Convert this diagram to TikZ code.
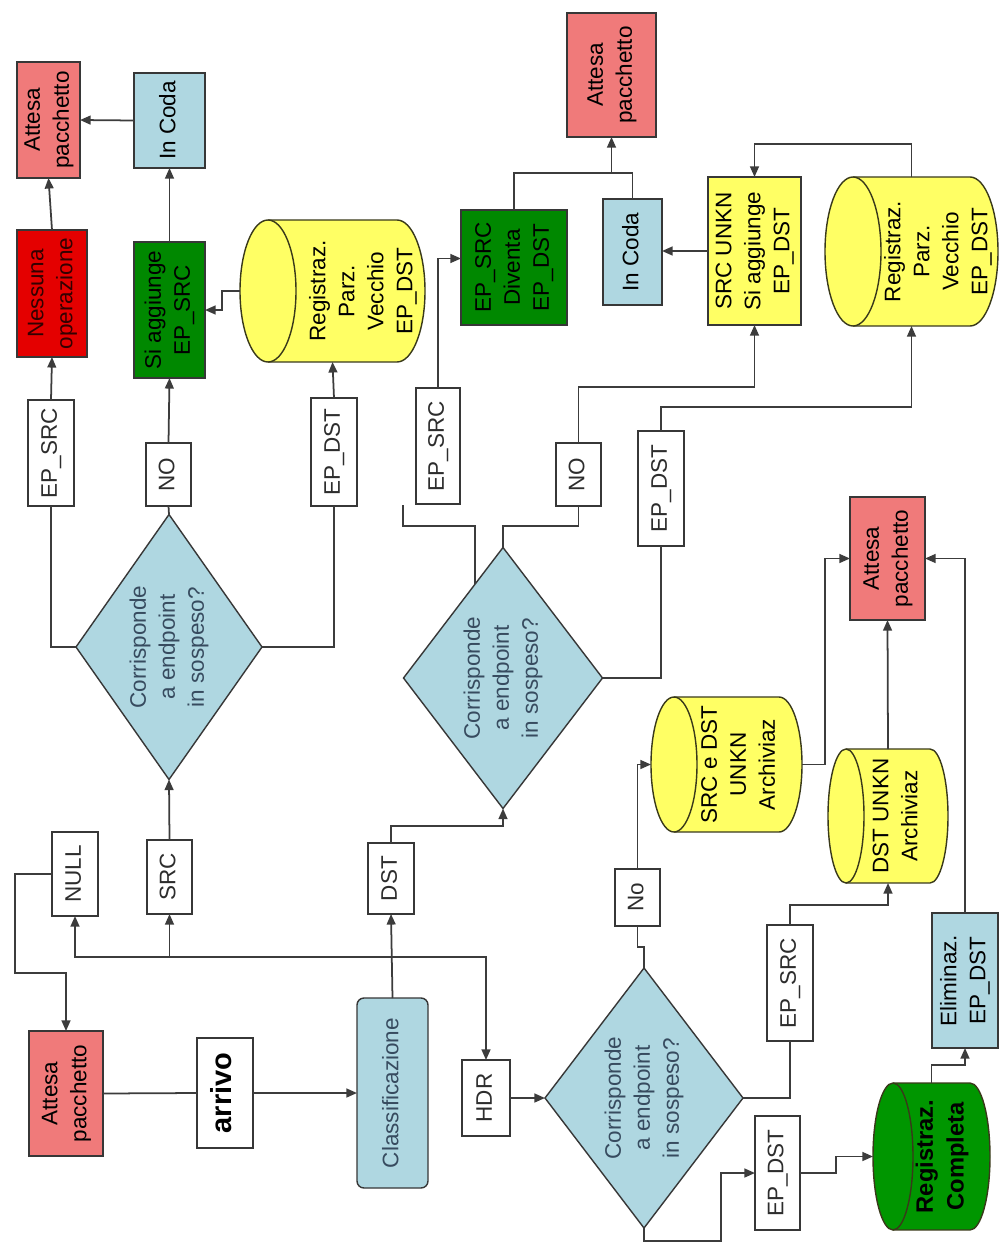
\documentclass[tikz,border=0pt]{standalone}
\usepackage{fontspec}
\setmainfont{Liberation Sans}
\usepackage{graphicx}
\usetikzlibrary{shapes.geometric,arrows.meta,fit,calc}
\definecolor{pinkc}{RGB}{240,122,122}
\definecolor{redc}{RGB}{228,0,0}
\definecolor{greenc}{RGB}{0,136,0}
\definecolor{dgreenc}{RGB}{0,150,0}
\definecolor{bluec}{RGB}{175,215,225}
\definecolor{yellowc}{RGB}{255,255,100}
\definecolor{bordc}{RGB}{55,55,55}
\definecolor{linec}{RGB}{60,60,60}
\definecolor{diatext}{RGB}{55,75,95}
\definecolor{lbltext}{RGB}{45,45,45}
\newcommand\rt[1]{\rotatebox{90}{\begin{tabular}{@{}c@{}}#1\end{tabular}}}
\newcommand\cylshape[7]{%
 \pgfmathsetmacro\cyYc{(#3+#5)/2}%
 \pgfmathsetmacro\cyRy{(#5-#3)/2*0.02}%
 \pgfmathsetmacro\cyRx{#6*0.02}%
 \pgfmathsetmacro\cyXa{#2+#6}%
 \pgfmathsetmacro\cyXb{#4-#6}%
 \fill[#7] (\cyXa,#3) rectangle (\cyXb,#5);
 \fill[#7] (\cyXb,\cyYc) ellipse [x radius=\cyRx cm, y radius=\cyRy cm];
 \draw[cylline] (\cyXa,#3) -- (\cyXb,#3) arc[start angle=90,end angle=-90,x radius=\cyRx cm,y radius=\cyRy cm] -- (\cyXa,#5);
 \draw[cylline, fill=#7] (\cyXa,\cyYc) ellipse [x radius=\cyRx cm, y radius=\cyRy cm];
 \node[fit={(#2,#3) (#4,#5)}, inner sep=0pt, outer sep=0pt] (#1) {};
}
\tikzset{
 cylline/.style={draw=bordc!80!yellow!60!black, line width=0.8pt},
 box/.style={draw=bordc, line width=0.8pt, inner sep=0pt, outer sep=0pt, text=black},
 wh/.style 2 args={minimum width=#1*0.02cm, minimum height=#2*0.02cm},
 lbl/.style={box, fill=white, text=lbltext},
 pinkbox/.style={box, fill=pinkc},
 redbox/.style={box, fill=redc, text=black!80!red},
 greenbox/.style={box, fill=greenc},
 bluebox/.style={box, fill=bluec},
 yellowbox/.style={box, fill=yellowc},
 dia/.style={diamond, draw=bordc, line width=0.8pt, fill=bluec, inner sep=0pt, outer sep=0pt, aspect=0.72, text=diatext},
 cyltext/.style={inner sep=0pt, text=black},
 conn/.style={draw=linec, line width=1pt},
 arr/.style={conn, -{Triangle[length=6pt,width=5pt]}}
}
\begin{document}
\begin{tikzpicture}[x=0.02cm,y=-0.02cm, font={\fontsize{12.8}{16.5}\selectfont}]
\fill[white] (0,0) rectangle (1000,1244);

% cylinders
\cylshape{Y1}{240}{220}{425}{362}{28}{yellowc}
\cylshape{Y4}{825}{177}{998}{326}{28}{yellowc}
\cylshape{Y2}{651}{697}{802}{832}{23}{yellowc}
\cylshape{Y5}{828}{749}{948}{883}{18}{yellowc}
\cylshape{Y6}{873}{1083}{990}{1230}{20}{dgreenc}
\node[cyltext] (Y1t) at (363,291) {\rt{Registraz.\\Parz.\\Vecchio\\EP\_DST}};
\node[cyltext] (Y4t) at (938,251.5) {\rt{Registraz.\\Parz.\\Vecchio\\EP\_DST}};
\node[cyltext] (Y2t) at (740,764.5) {\rt{SRC e DST\\UNKN\\Archiviaz}};
\node[cyltext] (Y5t) at (897,816) {\rt{DST UNKN\\Archiviaz}};
\node[cyltext, font={\fontsize{13.5}{17.5}\selectfont\bfseries}] (Y6t) at (942,1156.5) {\rt{Registraz.\\Completa}};

% left column
\node[pinkbox, wh={63}{116}] (A1) at (48.5,120) {\rt{Attesa\\pacchetto}};
\node[bluebox, wh={71}{95}] (C1) at (169.5,120.5) {\rt{In Coda}};
\node[redbox, wh={70}{127}] (N1) at (52,293.5) {\rt{Nessuna\\operazione}};
\node[greenbox, wh={71}{136}] (G1) at (169.5,310) {\rt{Si aggiunge\\EP\_SRC}};
\node[lbl, wh={46}{106}] (L1) at (51,453) {\rt{EP\_SRC}};
\node[lbl, wh={45}{63}] (NO1) at (168.5,474.5) {\rt{NO}};
\node[lbl, wh={46}{108}] (L3) at (334,452) {\rt{EP\_DST}};
\node[dia, wh={186}{265}] (D1) at (169,647) {\rt{Corrisponde\\a endpoint\\in sospeso?}};

% bottom left
\node[pinkbox, wh={74}{125}] (A0) at (66,1093.5) {\rt{Attesa\\pacchetto}};
\node[lbl, wh={56}{110}, text=black, font={\fontsize{16.5}{19}\selectfont\bfseries}] (AR) at (225,1093) {\rt{arrivo}};
\node[bluebox, wh={71}{190}, rounded corners=0.14cm, text=diatext] (CL) at (392.5,1093) {\rt{Classificazione}};
\node[lbl, wh={46}{84}] (NULL) at (75,874) {\rt{NULL}};
\node[lbl, wh={45}{74}] (SRC) at (169.5,877) {\rt{SRC}};
\node[lbl, wh={46}{71}] (DST) at (391,878.5) {\rt{DST}};
\node[lbl, wh={48}{76}] (HDR) at (486,1098) {\rt{HDR}};

% middle
\node[dia, wh={199}{261}] (D2) at (503,678) {\rt{Corrisponde\\a endpoint\\in sospeso?}};
\node[lbl, wh={44}{116}] (L4) at (438,446) {\rt{EP\_SRC}};
\node[lbl, wh={45}{63}] (L5) at (578.5,474.5) {\rt{NO}};
\node[lbl, wh={46}{115}] (L6) at (661,488.5) {\rt{EP\_DST}};
\node[greenbox, wh={106}{115}] (G2) at (514,267.5) {\rt{EP\_SRC\\Diventa\\EP\_DST}};
\node[bluebox, wh={59}{106}] (C2) at (632.5,252) {\rt{In Coda}};
\node[pinkbox, wh={89}{124}] (A2) at (611.5,75) {\rt{Attesa\\pacchetto}};
\node[yellowbox, wh={93}{148}] (Y3) at (754.5,251) {\rt{SRC UNKN\\Si aggiunge\\EP\_DST}};
\coordinate (free) at (403,505);

% bottom right
\node[dia, wh={198}{260}] (D3) at (644,1098) {\rt{Corrisponde\\a endpoint\\in sospeso?}};
\node[lbl, wh={45}{57}] (L7) at (637.5,897.5) {\rt{No}};
\node[lbl, wh={46}{116}] (L8) at (790,983) {\rt{EP\_SRC}};
\node[lbl, wh={45}{114}] (L9) at (777.5,1173) {\rt{EP\_DST}};
\node[bluebox, wh={66}{135}] (EL) at (965,980.5) {\rt{Eliminaz.\\EP\_DST}};
\node[pinkbox, wh={75}{123}] (A3) at (887.5,558.5) {\rt{Attesa\\pacchetto}};

% connectors: bottom left
\draw[conn] (A0.east) -- (AR.west);
\draw[arr] (AR.east) -- (CL.west);
\coordinate (bus) at (392,957);
\draw[arr] (CL.north) -- (DST.south);
\draw[arr] (bus) -| (NULL.south);
\draw[arr] (SRC.south |- bus) -- (SRC.south);
\draw[arr] (bus) -| (HDR.north);
\draw[arr] (NULL.west) -| (15,973) -| (A0.north);
\draw[arr] (SRC.north) -- (D1.south);
\draw[arr] (DST.north) -- ++(0,-17) -| (D2.south);
\draw[arr] (HDR.east) -- (D3.west);

% connectors: left column
\draw[conn] (D1.west) -| (L1.south);
\draw[arr] (L1.north) -- (N1.south);
\draw[conn] (D1.north) -- (NO1.south);
\draw[arr] (NO1.north) -- (G1.south);
\draw[conn] (D1.east) -| (L3.south);
\draw[arr] (L3.north) -- (Y1.south);
\draw[arr] (Y1.west) -- ++(-18,0) |- (G1.east);
\draw[arr] (G1.north) -- (C1.south);
\draw[arr] (C1.west) -- (A1.east);
\draw[arr] (N1.north) -- (A1.south);

% connectors: middle
\draw[conn] ($(D2.west)!0.72!(D2.north)$) |- (403,526) -- (free);
\draw[conn] (D2.north) |- ($(L5.south)+(0,20)$) -- (L5.south);
\draw[arr] (L5.north) |- ($(Y3.south)+(0,62)$) -- (Y3.south);
\draw[conn] (D2.east) -| (L6.south);
\draw[arr] (L6.north) |- ($(Y4.south)+(0,81)$) -- (Y4.south);
\draw[arr] (L4.north) |- ($(G2.west)+(0,-9)$);
\draw[conn] (G2.north) |- ($(C2.north)+(0,-26)$) -- (C2.north);
\draw[arr] ($(A2.south)+(0,36)$) -- (A2.south);
\draw[arr] (Y3.west) -- (Y3.west -| C2.east);
\draw[arr] (Y4.north) |- ($(Y3.north)+(0,-33)$) -- (Y3.north);

% connectors: bottom right
\draw[conn] (D3.north) -- ++(0,-21) -| (L7.south);
\draw[arr] (L7.north) |- (Y2.west);
\draw[arr] (Y2.east) -- ++(23,0) |- (A3.west);
\draw[arr] (Y5.north) -- (A3.south);
\draw[conn] (D3.east) -| (L8.south);
\draw[arr] (L8.north) |- ($(Y5.south)+(0,22)$) -- (Y5.south);
\draw[arr] (EL.north) |- (A3.east);
\draw[arr] (Y6.north) |- ($(EL.south)+(0,17)$) -- (EL.south);
\draw[arr] (D3.south) -- ++(0,13) -| ($(L9.west)+(-34,0)$) -- (L9.west);
\draw[arr] (L9.east) -- ++(36,0) |- (Y6.west);
\end{tikzpicture}
\end{document}
